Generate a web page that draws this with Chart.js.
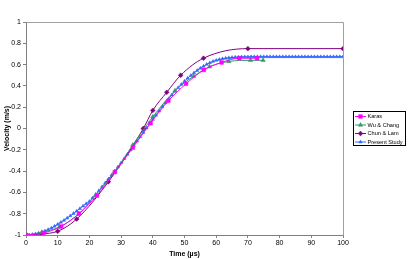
<!DOCTYPE html>
<html>
<head>
<meta charset="utf-8">
<script src="https://cdn.jsdelivr.net/npm/chart.js@4/dist/chart.umd.min.js"></script>
<style>
html,body{margin:0;padding:0;background:#fff;}
canvas{display:block;}
</style>
</head>
<body>
<canvas id="c" width="408" height="259"></canvas>
<script>
// ---- data ----
const seriesNames = ["Karas", "Wu & Chang", "Chun & Lam", "Present Study"];

const karasTime = [0, 5.6, 11.1, 16.7, 22.4, 28, 33.7, 39.3, 44.9, 50.5, 56.1, 61.7, 67.3, 72.9];
const karasVel  = [-1, -0.98, -0.92, -0.80, -0.63, -0.41, -0.18, 0.05, 0.26, 0.42, 0.55, 0.62, 0.66, 0.66];

const wuTime = [0, 5, 10.5, 16.7, 22, 28, 33.7, 40, 47, 52.9, 57.9, 64, 70.8, 74.8];
const wuVel  = [-1, -0.975, -0.925, -0.80, -0.625, -0.405, -0.155, 0.11, 0.355, 0.49, 0.58, 0.63, 0.64, 0.64];

const chunTime = [0, 5, 10, 16, 26, 37, 40, 44.4, 48.8, 56, 70, 100];
const chunVel  = [-1, -0.99, -0.965, -0.85, -0.50, 0.0, 0.17, 0.34, 0.50, 0.66, 0.75, 0.75];

const presentTime = [0,1,2,3,4,5,6,7,8,9,10,11,12,13,14,15,16,17,18,19,20,21,22,23,24,25,26,27,28,29,30,31,32,33,34,35,36,37,38,39,40,41,42,43,44,45,46,47,48,49,50,51,52,53,54,55,56,57,58,59,60,61,62,63,64,65,66,67,68,69,70,71,72,73,74,75,76,77,78,79,80,81,82,83,84,85,86,87,88,89,90,91,92,93,94,95,96,97,98,99,100];
const presentVel = [-1.000,-0.999,-0.995,-0.989,-0.982,-0.973,-0.962,-0.949,-0.935,-0.918,-0.900,-0.881,-0.862,-0.841,-0.820,-0.798,-0.775,-0.752,-0.728,-0.706,-0.685,-0.652,-0.620,-0.584,-0.547,-0.511,-0.474,-0.437,-0.400,-0.361,-0.322,-0.282,-0.242,-0.201,-0.160,-0.119,-0.078,-0.037,0.004,0.045,0.085,0.125,0.165,0.204,0.242,0.279,0.315,0.350,0.383,0.414,0.444,0.472,0.498,0.522,0.545,0.566,0.585,0.602,0.617,0.630,0.640,0.648,0.655,0.660,0.664,0.667,0.669,0.671,0.672,0.673,0.673,0.674,0.674,0.674,0.674,0.674,0.674,0.674,0.674,0.674,0.674,0.674,0.674,0.674,0.674,0.674,0.674,0.674,0.674,0.674,0.674,0.674,0.674,0.674,0.674,0.674,0.674,0.674,0.674,0.674,0.674];

const xTickValues = [0,10,20,30,40,50,60,70,80,90,100];
const yTickValues = [-1,-0.8,-0.6,-0.4,-0.2,0,0.2,0.4,0.6,0.8,1];
const xTitle = "Time (µs)";
const yTitle = "Velocity (m/s)";

function pts(xs, ys){ return xs.map((x,i)=>({x:x, y:ys[i]})); }

const FONT = "'Liberation Sans', Arial, sans-serif";

const styles = [
  {color:'#FF00FF', point:'rect', r:2.6},
  {color:'#339966', point:'triangle', r:2.5},
  {color:'#800080', point:'rectRot', r:2.4},
  {color:'#3366FF', point:'triangle', r:1.9}
];
const seriesData = [pts(karasTime,karasVel), pts(wuTime,wuVel), pts(chunTime,chunVel), pts(presentTime,presentVel)];

const datasets = seriesNames.map((name,i)=>({
  label: name,
  data: seriesData[i],
  showLine: true,
  borderColor: styles[i].color,
  backgroundColor: styles[i].color,
  pointBackgroundColor: styles[i].color,
  pointBorderColor: styles[i].color,
  borderWidth: 1,
  pointStyle: styles[i].point,
  pointRadius: styles[i].r,
  pointBorderWidth: 0.5,
  cubicInterpolationMode: 'monotone',
  fill: false
}));

const framePlugin = {
  id: 'frame',
  afterDraw(chart){
    const ctx = chart.ctx, a = chart.chartArea;
    ctx.save();
    ctx.strokeStyle = '#a0a0a0';
    ctx.lineWidth = 1;
    ctx.beginPath();
    ctx.moveTo(Math.round(a.left)+0.5, Math.round(a.top)+0.5);
    ctx.lineTo(Math.round(a.right)+0.5, Math.round(a.top)+0.5);
    ctx.lineTo(Math.round(a.right)+0.5, Math.round(a.bottom)+0.5);
    ctx.stroke();
    // legend box
    const bx = 353.5, by = 111.5, bw = 52, bh = 34;
    ctx.fillStyle = '#fff';
    ctx.fillRect(bx, by, bw, bh);
    ctx.strokeStyle = '#000';
    ctx.strokeRect(bx, by, bw, bh);
    ctx.font = "5.6px " + FONT;
    ctx.textBaseline = 'middle';
    ctx.textAlign = 'left';
    chart.data.datasets.forEach((ds,i)=>{
      const y = 116 + i*8.5;
      ctx.strokeStyle = ds.borderColor;
      ctx.lineWidth = 1;
      ctx.beginPath();
      ctx.moveTo(355, y+0.5); ctx.lineTo(366, y+0.5);
      ctx.stroke();
      ctx.fillStyle = ds.borderColor;
      ctx.strokeStyle = ds.borderColor;
      ctx.lineWidth = 0.5;
      Chart.helpers.drawPoint(ctx, {pointStyle: ds.pointStyle, radius: ds.pointRadius, rotation:0, borderWidth:0.5}, 360.5, y+0.5);
      ctx.fillStyle = '#000';
      ctx.fillText(ds.label, 367.5, y+0.5);
    });
    ctx.restore();
  }
};

new Chart(document.getElementById('c'), {
  type: 'scatter',
  data: { datasets: datasets },
  options: {
    responsive: false,
    animation: false,
    devicePixelRatio: 1,
    layout: { padding: { top: 22, right: 65, left: 0, bottom: 0 } },
    plugins: { legend: { display: false }, tooltip: { enabled: false } },
    scales: {
      x: {
        type: 'linear', min: 0, max: 100,
        afterBuildTicks: s => { s.ticks = xTickValues.map(v=>({value:v})); },
        afterFit: s => { s.height = 24; },
        grid: { drawOnChartArea: false, drawTicks: true, tickLength: 3, color: '#808080' },
        border: { color: '#808080', width: 1 },
        ticks: { color: '#000', font: { family: FONT, size: 7 }, padding: 1, maxRotation: 0 },
        title: { display: true, text: xTitle, color: '#000', font: { family: FONT, size: 7, weight: 'bold' }, padding: { top: 0, bottom: 1 } }
      },
      y: {
        type: 'linear', min: -1, max: 1,
        afterBuildTicks: s => { s.ticks = yTickValues.map(v=>({value:v})); },
        afterFit: s => { s.width = 26; },
        grid: { drawOnChartArea: false, drawTicks: true, tickLength: 3, color: '#808080' },
        border: { color: '#808080', width: 1 },
        ticks: { color: '#000', font: { family: FONT, size: 7 }, padding: 2, callback: v => String(Math.round(v*10)/10) },
        title: { display: true, text: yTitle, color: '#000', font: { family: FONT, size: 7, weight: 'bold' }, padding: { top: 3, bottom: 0 } }
      }
    }
  },
  plugins: [framePlugin]
});
</script>
</body>
</html>
